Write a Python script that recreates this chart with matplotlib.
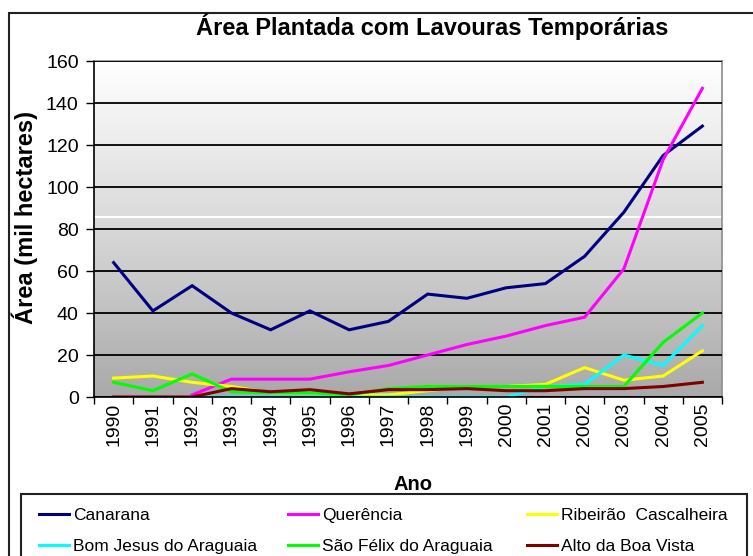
import numpy as np
import matplotlib

matplotlib.use("Agg")
import matplotlib.pyplot as plt
from matplotlib.patches import Rectangle

plt.rcParams["font.family"] = ["Liberation Sans", "DejaVu Sans"]

years = [str(y) for y in range(1990, 2006)]
nan = np.nan

canarana = [64, 41, 53, 40, 32, 41, 32, 36, 49, 47, 52, 54, 67, 88, 115, 129]
querencia = [nan, nan, 1, 8.5, 8.5, 8.5, 12, 15, 20, 25, 29, 34, 38, 61, 113, 147]
ribeirao = [9, 10, 7, 5, 2, 2, 1, 1, 3, 5, 5, 6, 14, 8, 10, 22]
bom_jesus = [nan, nan, 0, 0, 0, 0, 0, 0, 0, 0, 0, 5, 6, 20, 15, 34]
sao_felix = [7, 3, 11, 2.5, 2, 2, 1, 4, 5, 5, 5, 5, 5, 5, 26, 40]
alto_boa = [0, 0, 0, 4, 2.5, 3.5, 1.5, 3.5, 3.5, 4, 3, 3, 4, 4, 5, 7]

series = [
    ("Canarana", canarana, "#000080"),
    ("Querência", querencia, "#ff00ff"),
    ("Ribeirão  Cascalheira", ribeirao, "#ffff00"),
    ("Bom Jesus do Araguaia", bom_jesus, "#00ffff"),
    ("São Félix do Araguaia", sao_felix, "#00ff00"),
    ("Alto da Boa Vista", alto_boa, "#800000"),
]

fig = plt.figure(figsize=(7.53, 5.56), dpi=100)
ax = fig.add_axes([94 / 753, 1 - 397 / 556, 628 / 753, 336 / 556])

# outer chart frame
fig.patches.append(Rectangle((9 / 753, -0.05), 1.1, 1.05 - 13 / 556, transform=fig.transFigure,
                             fill=False, edgecolor="#222222", linewidth=1.5))

# gradient plot area
grad = np.linspace(1.0, 0.0, 256).reshape(-1, 1)
cmap = matplotlib.colors.LinearSegmentedColormap.from_list("g", ["#a9a9a9", "#d8d8d8", "#ffffff"])
ax.imshow(grad, aspect="auto", cmap=cmap, extent=(0, 1, 0, 1), transform=ax.transAxes,
          origin="upper", zorder=0)
ax.axhline(85.5, color="white", linewidth=1.5, zorder=0.5)

x = np.arange(len(years))
for name, vals, color in series:
    ax.plot(x, vals, color=color, linewidth=2.2, label=name, zorder=3,
            solid_joinstyle="miter")

ax.set_xlim(-0.5, len(years) - 0.5)
ax.set_ylim(0, 160)
ax.set_yticks(range(0, 161, 20))
ax.yaxis.grid(True, color="black", linewidth=1.3, zorder=1)
ax.set_axisbelow(False)
ax.tick_params(axis="y", direction="out", length=6, width=1, labelsize=14, pad=5)

ax.set_xticks(x)
ax.set_xticklabels(years, rotation=90, fontsize=14)
ax.set_xticks(np.arange(-0.5, len(years)), minor=True)
ax.tick_params(axis="x", which="major", length=0, pad=4)
ax.tick_params(axis="x", which="minor", direction="out", length=5, width=1)

for s in ("top", "right"):
    ax.spines[s].set_color("#8c8c8c")
    ax.spines[s].set_linewidth(1.2)
for s in ("left", "bottom"):
    ax.spines[s].set_color("black")
    ax.spines[s].set_linewidth(1.2)
ax.spines["bottom"].set_zorder(4)

fig.text(432 / 753, 1 - 27 / 556, "Área Plantada com Lavouras Temporárias",
         ha="center", va="center", fontsize=17, fontweight="bold")
fig.text(25 / 753, 1 - 218 / 556, "Área (mil hectares)", rotation=90,
         ha="center", va="center", fontsize=17, fontweight="bold")
fig.text(413 / 753, 1 - 484 / 556, "Ano", ha="center", va="center",
         fontsize=14.5, fontweight="bold")

# legend box
fig.patches.append(Rectangle((21 / 753, -0.05), 726 / 753, 0.05 + 1 - 494 / 556,
                             transform=fig.transFigure, fill=False,
                             edgecolor="#222222", linewidth=1.5))
h, l = ax.get_legend_handles_labels()
col_x = [39, 288, 527]
for c in range(3):
    idx = [c, c + 3]
    fig.legend([h[i] for i in idx], [l[i] for i in idx], loc="upper left",
               bbox_to_anchor=(col_x[c] / 753, 1 - 508 / 556),
               frameon=False, fontsize=12.5, handlelength=1.75, handletextpad=0.2,
               labelspacing=0.9, borderpad=0, borderaxespad=0)

fig.savefig("out.png", dpi=100)
